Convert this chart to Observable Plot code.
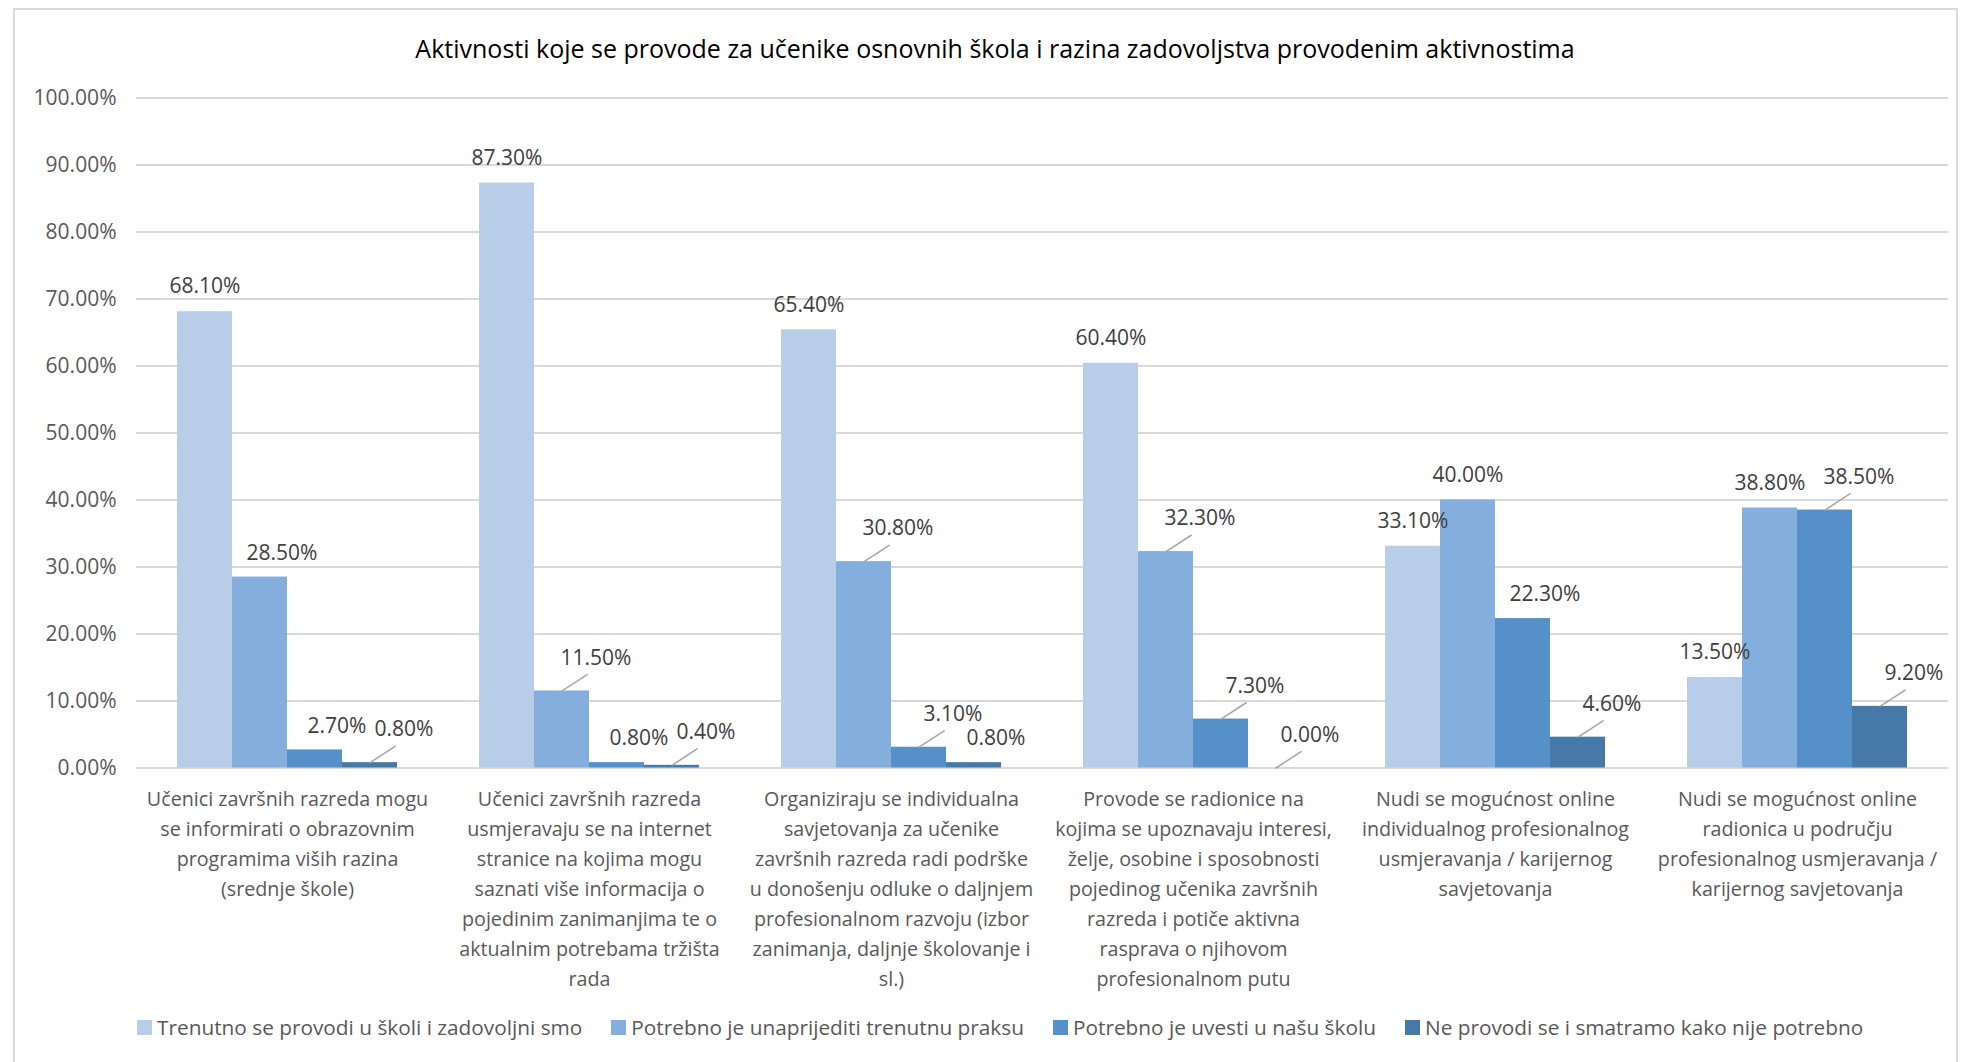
<!DOCTYPE html>
<html><head><meta charset="utf-8">
<script src="https://cdn.jsdelivr.net/npm/d3@7"></script>
<script src="https://cdn.jsdelivr.net/npm/@observablehq/plot@0.6"></script>
<style>
body{margin:0;background:#fff;}
#wrap{position:relative;width:1961px;height:1062px;overflow:hidden;font-family:"Open Sans",sans-serif;background:#fff;}
#frame{position:absolute;left:13px;top:8px;width:1945px;height:1100px;border:2px solid #d9d9d9;box-sizing:border-box;}
#title{position:absolute;left:0;width:1990px;top:31px;line-height:34px;text-align:center;font-size:25px;color:#000;}
#chart{position:absolute;left:0;top:0;}
#legend{position:absolute;left:137px;top:1013px;display:flex;gap:29px;font-size:20.8px;line-height:28px;color:#595959;white-space:nowrap;}
#legend .item{display:flex;align-items:center;}
#legend .sw{width:15px;height:15px;margin-right:5px;}
</style></head>
<body>
<div id="wrap">
  <div id="frame"></div>
  <div id="title"></div>
  <div id="chart"></div>
  <div id="legend"></div>
</div>
<script>
const title = "Aktivnosti koje se provode za učenike osnovnih škola i razina zadovoljstva provodenim aktivnostima";

const categories = [
  "Učenici završnih razreda mogu\nse informirati o obrazovnim\nprogramima viših razina\n(srednje škole)",
  "Učenici završnih razreda\nusmjeravaju se na internet\nstranice na kojima mogu\nsaznati više informacija o\npojedinim zanimanjima te o\naktualnim potrebama tržišta\nrada",
  "Organiziraju se individualna\nsavjetovanja za učenike\nzavršnih razreda radi podrške\nu donošenju odluke o daljnjem\nprofesionalnom razvoju (izbor\nzanimanja, daljnje školovanje i\nsl.)",
  "Provode se radionice na\nkojima se upoznavaju interesi,\nželje, osobine i sposobnosti\npojedinog učenika završnih\nrazreda i potiče aktivna\nrasprava o njihovom\nprofesionalnom putu",
  "Nudi se mogućnost online\nindividualnog profesionalnog\nusmjeravanja / karijernog\nsavjetovanja",
  "Nudi se mogućnost online\nradionica u području\nprofesionalnog usmjeravanja /\nkarijernog savjetovanja"
];

const seriesNames = [
  "Trenutno se provodi u školi i zadovoljni smo",
  "Potrebno je unaprijediti trenutnu praksu",
  "Potrebno je uvesti u našu školu",
  "Ne provodi se i smatramo kako nije potrebno"
];

const trenutnoZadovoljni = [68.1, 87.3, 65.4, 60.4, 33.1, 13.5];
const unaprijeditiPraksu = [28.5, 11.5, 30.8, 32.3, 40.0, 38.8];
const uvestiUSkolu      = [2.7, 0.8, 3.1, 7.3, 22.3, 38.5];
const nijePotrebno      = [0.8, 0.4, 0.8, 0.0, 4.6, 9.2];

const yTicks = [0, 10, 20, 30, 40, 50, 60, 70, 80, 90, 100];

// how each data label is placed (Excel-style: above, nudged, or callout with leader)
const labelPlacement = [
  ["plain", "shift", "shift", "callout"],
  ["plain", "callout", "shift", "callout"],
  ["plain", "callout", "callout", "shift"],
  ["plain", "callout", "callout", "callout"],
  ["plain", "plain", "shift", "callout"],
  ["plain", "plain", "callout", "callout"]
];

const colors = ["#b8cde8", "#84aedb", "#5591c8", "#4678a8"];

const seriesValues = [trenutnoZadovoljni, unaprijeditiPraksu, uvestiUSkolu, nijePotrebno];
const data = [];
categories.forEach((c, i) => {
  seriesNames.forEach((s, j) => {
    data.push({category: c, series: s, value: seriesValues[j][i], placement: labelPlacement[i][j]});
  });
});

document.getElementById("title").textContent = title;

const fmt = v => v.toFixed(2) + "%";
const leaderShape = {draw(context, l) { context.moveTo(0, 0); context.lineTo(0, -l); }};

const chart = Plot.plot({
  width: 1961,
  height: 1000,
  marginLeft: 135,
  marginRight: 13,
  marginTop: 97.5,
  marginBottom: 232.5,
  style: {fontFamily: "'Open Sans', sans-serif", fontSize: "21px", color: "#595959", background: "transparent"},
  fx: {domain: categories, padding: 0, axis: null, label: null},
  x: {domain: seriesNames, paddingInner: 0, paddingOuter: 0.72, axis: null, label: null},
  y: {domain: [0, 100], axis: null, label: null},
  color: {domain: seriesNames, range: colors},
  marks: [
    Plot.gridY(yTicks, {stroke: "#d9d9d9", strokeWidth: 2, strokeOpacity: 1}),
    Plot.axisY({ticks: yTicks, tickFormat: fmt, tickSize: 0, tickPadding: 20, fontSize: 21, fill: "#595959", label: null}),
    Plot.barY(data, {fx: "category", x: "series", y: "value", fill: "series", inset: 0}),
    Plot.text(data.filter(d => d.placement === "plain"), {fx: "category", x: "series", y: "value", text: d => fmt(d.value), dy: -25, fill: "#404040", fontSize: 21}),
    Plot.text(data.filter(d => d.placement === "shift"), {fx: "category", x: "series", y: "value", text: d => fmt(d.value), dx: 22, dy: -24, fill: "#404040", fontSize: 21}),
    Plot.vector(data.filter(d => d.placement === "callout"), {fx: "category", x: "series", y: "value", length: 30, rotate: 57, anchor: "start", shape: leaderShape, stroke: "#a6a6a6", strokeWidth: 1.5}),
    Plot.text(data.filter(d => d.placement === "callout"), {fx: "category", x: "series", y: "value", text: d => fmt(d.value), dx: 34, dy: -33, fill: "#404040", fontSize: 21}),
    Plot.text(categories, {fx: d => d, text: d => d, frameAnchor: "bottom", lineAnchor: "top", dy: 17, lineHeight: 1.52, fontSize: 19.7, fill: "#595959"})
  ]
});
document.getElementById("chart").appendChild(chart);

const legend = document.getElementById("legend");
seriesNames.forEach((s, j) => {
  const item = document.createElement("div");
  item.className = "item";
  const sw = document.createElement("span");
  sw.className = "sw";
  sw.style.background = colors[j];
  const t = document.createElement("span");
  t.textContent = s;
  item.appendChild(sw); item.appendChild(t);
  legend.appendChild(item);
});
</script>
</body></html>
